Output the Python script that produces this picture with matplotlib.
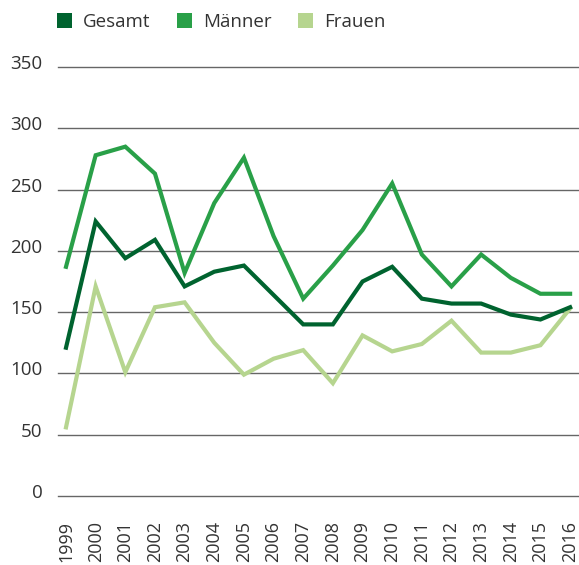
import matplotlib
matplotlib.use("Agg")
import matplotlib.pyplot as plt
from matplotlib.patches import Patch
from matplotlib.transforms import ScaledTranslation

years = list(range(1999, 2017))
gesamt = [121, 224, 194, 209, 171, 183, 188, 164, 140, 140, 175, 187, 161, 157, 157, 148, 144, 154]
maenner = [187, 278, 285, 263, 182, 239, 276, 212, 161, 188, 217, 255, 197, 171, 197, 178, 165, 165]
frauen = [56, 171, 101, 154, 158, 125, 99, 112, 119, 92, 131, 118, 124, 143, 117, 117, 123, 153]
series_names = ["Gesamt", "Männer", "Frauen"]
colors = ["#00632f", "#29a048", "#b6d58f"]
yticks = [0, 50, 100, 150, 200, 250, 300, 350]

plt.rcParams["font.family"] = ["Open Sans", "DejaVu Sans"]
txt_color = "#333333"

fig = plt.figure(figsize=(5.79, 5.65), dpi=100)
ax = fig.add_axes([58 / 579, 1 - 496 / 565, 1 - 58 / 579, (496 - 67) / 565])

# draw light first so the dark line sits on top
for vals, c in zip([frauen, maenner, gesamt], [colors[2], colors[1], colors[0]]):
    ax.plot(years, vals, color=c, lw=3, solid_joinstyle="miter", zorder=3)

ax.set_xlim(1999 - 0.27, 2016 + 0.3)
ax.set_ylim(0, 350)
ax.set_yticks(yticks)
ax.set_xticks(years)
ax.set_xticklabels([str(y) for y in years], rotation=90)
ax.grid(axis="y", color="#666666", lw=1)
for gl in ax.get_ygridlines():
    gl.set_clip_on(False)
ax.set_axisbelow(True)
for s in ax.spines.values():
    s.set_visible(False)
ax.tick_params(axis="both", length=0, labelsize=13, colors=txt_color)
ax.tick_params(axis="y", pad=11, labelsize=13.5)
ax.tick_params(axis="x", pad=18)
for lab in ax.get_yticklabels():
    lab.set_transform(lab.get_transform() + ScaledTranslation(0, 5 / 100, fig.dpi_scale_trans))

handles = [Patch(facecolor=c, edgecolor="none") for c in colors]
fig.legend(handles, series_names, loc="upper left", bbox_to_anchor=(40 / 579, 1 + 4 / 565),
           ncol=3, frameon=False, fontsize=13.5, handlelength=0.8, handleheight=0.8,
           handletextpad=0.6, columnspacing=1.4, labelcolor=txt_color)

fig.savefig("out.png", dpi=100)
